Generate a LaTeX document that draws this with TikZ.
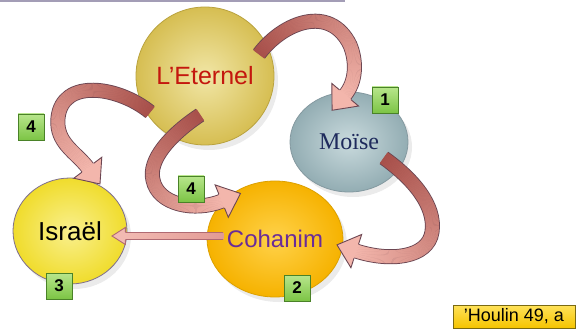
\documentclass[tikz,border=0pt]{standalone}
\usepackage{fontspec}
\setmainfont{Liberation Sans}
\newfontfamily\moseface{Liberation Serif}
\usetikzlibrary{shapes.geometric,shadows,decorations.markings}

\definecolor{eternelfill}{HTML}{D6BE52}
\definecolor{eternellight}{HTML}{F1E6A6}
\definecolor{eternelborder}{HTML}{B9A23E}
\definecolor{eterneltext}{HTML}{C4170E}
\definecolor{mosefill}{HTML}{93ADB3}
\definecolor{moselight}{HTML}{C9DADD}
\definecolor{moseborder}{HTML}{8499A0}
\definecolor{mosetext}{HTML}{1E2A5C}
\definecolor{cohanimfill}{HTML}{F6B200}
\definecolor{cohanimlight}{HTML}{FFD24A}
\definecolor{cohanimborder}{HTML}{DCA000}
\definecolor{cohanimtext}{HTML}{6A2C98}
\definecolor{israelfill}{HTML}{F0DC2C}
\definecolor{israellight}{HTML}{F9F08E}
\definecolor{israelborder}{HTML}{7E6E8E}
\definecolor{badgefill}{HTML}{7CC445}
\definecolor{badgelight}{HTML}{B8E68C}
\definecolor{badgeborder}{HTML}{4A8228}
\definecolor{sourcefill}{HTML}{F5C400}
\definecolor{sourcelight}{HTML}{FFE25A}
\definecolor{sourceborder}{HTML}{7A6A12}
\definecolor{bandtail}{HTML}{A8504A}
\definecolor{bandhead}{HTML}{F3B6AC}
\definecolor{bandline}{HTML}{6C4652}
\definecolor{slimtail}{HTML}{E29A94}
\definecolor{slimhead}{HTML}{F2BAB2}
\definecolor{slimline}{HTML}{B06A72}
\definecolor{framegray}{HTML}{A39DB6}

% one thin slice of a ribbon, coloured by its distance along the path
\newcommand\ribbonslice[1]{%
  \pgfmathsetmacro\ribbonmix{max(0,min(100,100*(1-(\pgfkeysvalueof{/pgf/decoration/mark info/distance from start})/(\pgfdecoratedpathlength))))}%
  \fill[\ribbonfrom!\ribbonmix!\ribbonto] (-0.45pt,-#1) rectangle (0.45pt,#1);}
% head of a ribbon: band half width, head half width, head length
\newcommand\ribbontip[3]{%
  \fill[\ribbonto] (-0.3pt,-#2) -- (#3,0pt) -- (-0.3pt,#2) -- cycle;
  \draw[\ribbonline, line width=0.9pt, line join=miter] (-0.3pt,-#1) -- (-0.3pt,-#2) -- (#3,0pt) -- (-0.3pt,#2) -- (-0.3pt,#1);}

\tikzset{
  ribbon from/.store in=\ribbonfrom,
  ribbon to/.store in=\ribbonto,
  ribbon line/.store in=\ribbonline,
  ribbon from=bandtail, ribbon to=bandhead, ribbon line=bandline,
  bubble/.style={ellipse, inner sep=0pt, line width=0.8pt, drop shadow={shadow xshift=4pt, shadow yshift=-5pt, opacity=0.16}},
  badge/.style={rectangle, draw=badgeborder, line width=0.9pt, top color=badgelight, bottom color=badgefill, minimum width=26pt, minimum height=26pt, inner sep=0pt, font=\fontsize{17}{17}\selectfont\bfseries},
  source/.style={rectangle, draw=sourceborder, line width=0.8pt, top color=sourcelight, bottom color=sourcefill, minimum width=122pt, minimum height=23pt, inner sep=0pt, font=\fontsize{18}{18}\selectfont},
  bigarrow/.style={line width=15pt, draw=\ribbonline,
    postaction={decorate, decoration={markings, mark=between positions 0 and 1 step 0.5pt with {\ribbonslice{6.5pt}}}},
    postaction={decorate, decoration={markings, mark=at position 0.9999 with {\ribbontip{7.5pt}{17.5pt}{20pt}}}}},
  slimarrow/.style={line width=8pt, ribbon from=slimtail, ribbon to=slimhead, ribbon line=slimline, draw=slimline,
    postaction={decorate, decoration={markings, mark=between positions 0 and 1 step 0.5pt with {\ribbonslice{3.2pt}}}},
    postaction={decorate, decoration={markings, mark=at position 0.9999 with {\ribbontip{4pt}{8.5pt}{13pt}}}}}
}

\begin{document}
\begin{tikzpicture}[x=1pt,y=-1pt]
\useasboundingbox (0,0) rectangle (586,331);

\draw[framegray, line width=2pt] (0,1.5) -- (344,1.5) -- (344,-3);

% the four circles
\node[bubble, minimum width=138pt, minimum height=138pt, draw=eternelborder, inner color=eternellight, outer color=eternelfill, text=eterneltext, font=\fontsize{25}{25}\selectfont] (eternel) at (205,76) {L'Eternel};
\node[bubble, minimum width=118pt, minimum height=100pt, draw=moseborder, inner color=moselight, outer color=mosefill, text=mosetext, font=\moseface\fontsize{24}{24}\selectfont] (moise) at (349,142) {Moïse};
\node[bubble, minimum width=116pt, minimum height=116pt, draw=cohanimborder, inner color=cohanimlight, outer color=cohanimfill, text=cohanimtext, font=\fontsize{24}{24}\selectfont] (cohanim) at (275,239) {Cohanim};
\node[bubble, minimum width=114pt, minimum height=106pt, draw=israelborder, inner color=israellight, outer color=israelfill, font=\fontsize{26}{26}\selectfont] (israel) at (70,231) {Israël};

% curved ribbons
\draw[bigarrow] ([shift={(54,-22)}]eternel.center) .. controls (283,22) and (330,4) .. (350,45) .. controls (357,62) and (356,82) .. ([shift={(-4,-47)}]moise.center);
\draw[bigarrow] ([shift={(-55,36)}]eternel.center) .. controls (118,86) and (62,78) .. (58,118) .. controls (55.5,143) and (76,152) .. ([shift={(18,-63)}]israel.center);
\draw[bigarrow] ([shift={(-5,39)}]eternel.center) .. controls (170,135) and (148,160) .. (153,180) .. controls (158,205) and (195,212) .. ([shift={(-53,-38)}]cohanim.center);
\draw[bigarrow] ([shift={(35,16)}]moise.center) .. controls (412,178) and (436,205) .. (432,232) .. controls (428,258) and (390,262) .. ([shift={(81,12)}]cohanim.center);
\draw[slimarrow] ([shift={(-52,-3)}]cohanim.center) -- ([shift={(55,5)}]israel.center);

% step numbers
\node[badge] (one) at (385,100) {1};
\node[badge] (two) at (297,288) {2};
\node[badge] (three) at (59,286) {3};
\node[badge] (fourleft) at (31,127) {4};
\node[badge] (fourmid) at (191,189) {4};

\node[source] (houlin) at (514,316.5) {'Houlin 49, a};

\end{tikzpicture}
\end{document}
